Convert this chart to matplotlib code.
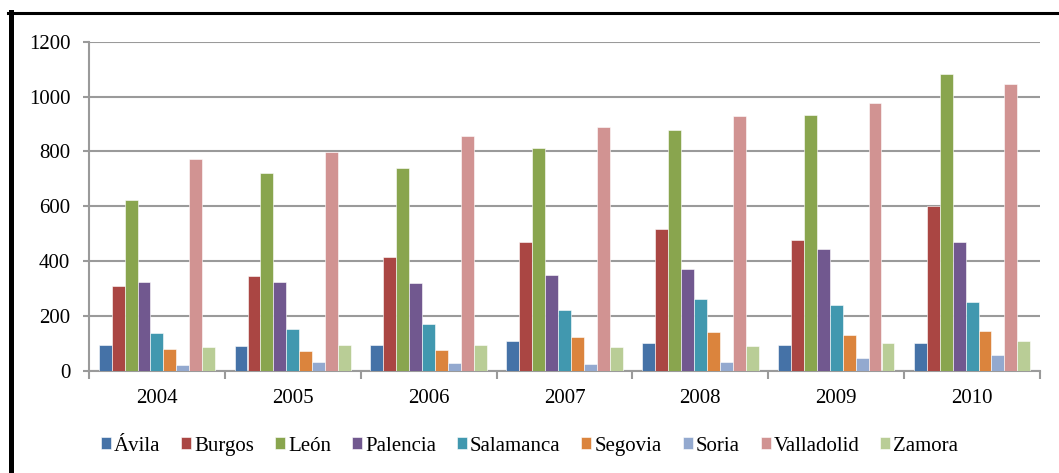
import numpy as np
import matplotlib.pyplot as plt
from matplotlib.lines import Line2D

# datos
anios = ['2004', '2005', '2006', '2007', '2008', '2009', '2010']
provincias = ['Ávila', 'Burgos', 'León', 'Palencia', 'Salamanca', 'Segovia', 'Soria', 'Valladolid', 'Zamora']

avila = [95, 92, 96, 108, 102, 94, 103]
burgos = [310, 348, 417, 469, 516, 476, 602]
leon = [624, 721, 741, 811, 880, 934, 1083]
palencia = [324, 325, 320, 351, 373, 446, 469]
salamanca = [137, 154, 171, 224, 261, 240, 251]
segovia = [80, 74, 75, 125, 142, 133, 147]
soria = [23, 31, 28, 26, 32, 47, 60]
valladolid = [773, 799, 855, 889, 931, 976, 1047]
zamora = [88, 96, 96, 86, 90, 101, 111]

series = [avila, burgos, leon, palencia, salamanca, segovia, soria, valladolid, zamora]
colores = ['#4572A7', '#AA4643', '#89A54E', '#71588F', '#4198AF',
           '#DB843D', '#93A9CF', '#D19392', '#B9CD96']

plt.rcParams['font.family'] = ['Liberation Serif', 'DejaVu Serif']

fig = plt.figure(figsize=(10.59, 4.73), dpi=100)
ax = fig.add_axes([89 / 1059, 1 - 371 / 473, (1040 - 89) / 1059, (371 - 41.7) / 473])

x = np.arange(len(anios)) + 0.5
ancho = 1 / 10.5
for i, (vals, col, nombre) in enumerate(zip(series, colores, provincias)):
    ax.bar(x + (i - 4) * ancho, vals, width=ancho, color=col, label=nombre,
           edgecolor='white', linewidth=0.4, zorder=3)

ax.set_xlim(0, len(anios))
ax.set_ylim(0, 1200)
ax.set_yticks(range(0, 1201, 200))
ax.yaxis.grid(True, color='#9a9a9a', linewidth=1.5, zorder=0)
ax.set_axisbelow(True)

ax.set_xticks(x)
ax.set_xticklabels(anios)
ax.set_xticks(np.arange(len(anios) + 1), minor=True)
ax.tick_params(axis='x', which='major', length=0, pad=13, labelsize=15)
ax.tick_params(axis='x', which='minor', length=6, width=1.5, color='#9a9a9a', direction='out')
ax.tick_params(axis='y', length=4.5, width=1.5, color='#9a9a9a', pad=9, labelsize=15)

for lado in ['top', 'right']:
    ax.spines[lado].set_visible(False)
for lado in ['left', 'bottom']:
    ax.spines[lado].set_color('#9a9a9a')
    ax.spines[lado].set_linewidth(1.5)

fig.legend(loc='center', bbox_to_anchor=(0.5, 1 - 446 / 473), ncol=9, frameon=False,
           fontsize=15, handlelength=0.48, handleheight=0.48, handletextpad=0.15,
           columnspacing=1.0)

# marco negro
fig.add_artist(Line2D([10.5 / 1059, 10.5 / 1059], [0, 1 - 12 / 473], color='black',
                      linewidth=3.6, transform=fig.transFigure))
fig.add_artist(Line2D([8 / 1059, 1], [1 - 13.5 / 473, 1 - 13.5 / 473], color='black',
                      linewidth=2.2, transform=fig.transFigure))

plt.savefig('out.png')
